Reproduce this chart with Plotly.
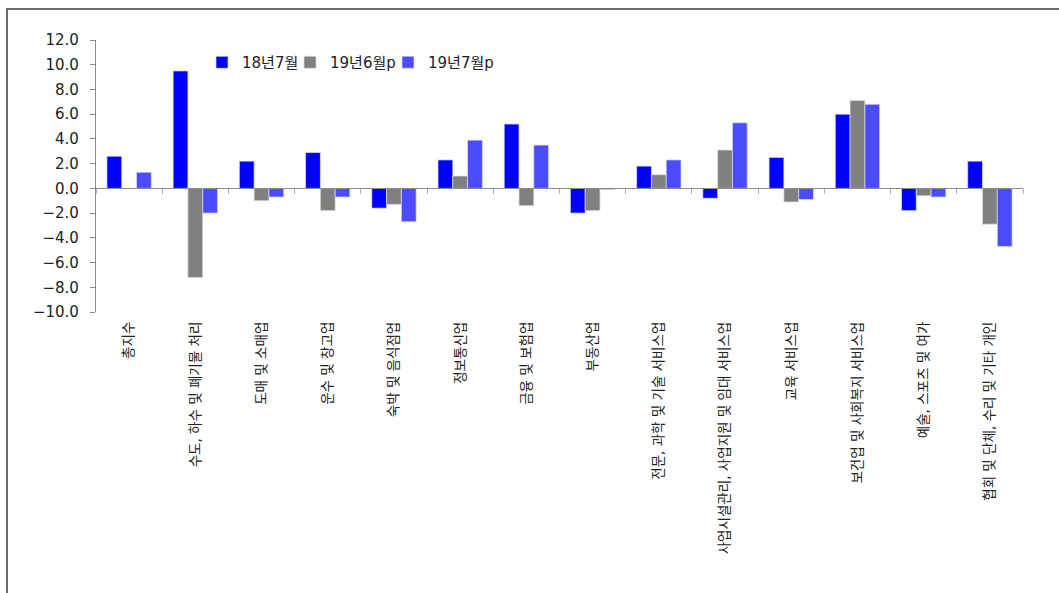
import plotly.graph_objects as go

categories = [
    "총지수",
    "수도, 하수 및 폐기물 처리",
    "도매 및 소매업",
    "운수 및 창고업",
    "숙박 및 음식점업",
    "정보통신업",
    "금융 및 보험업",
    "부동산업",
    "전문, 과학 및 기술 서비스업",
    "사업시설관리, 사업지원 및 임대 서비스업",
    "교육 서비스업",
    "보건업 및 사회복지 서비스업",
    "예술, 스포츠 및 여가",
    "협회 및 단체, 수리 및 기타 개인",
]
series_names = ["18년7월", "19년6월p", "19년7월p"]
v_1807 = [2.6, 9.5, 2.2, 2.9, -1.6, 2.3, 5.2, -2.0, 1.8, -0.8, 2.5, 6.0, -1.8, 2.2]
v_1906 = [0.0, -7.2, -1.0, -1.8, -1.3, 1.0, -1.4, -1.8, 1.1, 3.1, -1.1, 7.1, -0.6, -2.9]
v_1907 = [1.3, -2.0, -0.7, -0.7, -2.7, 3.9, 3.5, -0.1, 2.3, 5.3, -0.9, 6.8, -0.7, -4.7]
colors = ["#0000FF", "#808080", "#4B4BFF"]
y_range = [-10, 12]

FONT = "DejaVu Sans, Noto Sans CJK KR, sans-serif"

W, H = 1059, 593
L, R, T, B = 96, 36, 40, 281
pw, ph = W - L - R, H - T - B

legend_ids = ["legend", "legend2", "legend3"]
legend_px = [202, 290, 388]  # left edge of each legend entry, in pixels

fig = go.Figure()
for name, vals, col, lid in zip(series_names, [v_1807, v_1906, v_1907], colors, legend_ids):
    fig.add_trace(go.Bar(
        x=categories, y=vals, name=name, legend=lid,
        marker=dict(color=col, line=dict(color="rgba(220,220,230,0.9)", width=0.8)),
    ))

# helper trace for the axis drawn at y = 0
fig.add_trace(go.Scatter(
    x=categories, y=[None] * len(categories), xaxis="x2", yaxis="y",
    showlegend=False, hoverinfo="skip", mode="lines",
))

zero_pos = (0 - y_range[0]) / (y_range[1] - y_range[0])

legends = {}
for lid, px in zip(legend_ids, legend_px):
    legends[lid] = dict(
        orientation="h", x=(px - L) / pw, y=1 - (46 - T) / ph,
        xanchor="left", yanchor="top",
        font=dict(size=15, family=FONT, color="#222"),
        itemwidth=30, bgcolor="rgba(0,0,0,0)",
    )

fig.update_layout(
    width=W, height=H,
    margin=dict(l=L, r=R, t=T, b=B, pad=0),
    paper_bgcolor="white", plot_bgcolor="white",
    font=dict(family=FONT, color="#222222"),
    barmode="group", bargap=0.33, bargroupgap=0.0,
    xaxis=dict(
        type="category", categoryorder="array", categoryarray=categories,
        range=[-0.5, len(categories) - 0.5],
        showline=False, showgrid=False, zeroline=False, ticks="",
        tickangle=-90, tickfont=dict(size=13.5, family=FONT, color="#222"),
        ticklabelstandoff=6,
    ),
    xaxis2=dict(
        type="category", categoryorder="array", categoryarray=categories,
        range=[-0.5, len(categories) - 0.5],
        overlaying="x", anchor="free", position=zero_pos,
        showline=True, linecolor="#8c8c8c", linewidth=1.2,
        ticks="outside", tickson="boundaries", ticklen=5, tickcolor="#b0b0b0",
        showticklabels=False, showgrid=False, zeroline=False,
    ),
    yaxis=dict(
        range=y_range, dtick=2, tickformat=".1f",
        showline=True, linecolor="#8c8c8c", linewidth=1.2,
        ticks="outside", ticklen=5, tickcolor="#8c8c8c",
        showgrid=False, zeroline=False,
        tickfont=dict(size=15, family=FONT, color="#222"),
        ticklabelstandoff=8,
    ),
    shapes=[dict(
        type="rect", xref="paper", yref="paper",
        x0=(7 - L) / pw, x1=(W + 20 - L) / pw,
        y0=-2, y1=1 + (T - 9) / ph,
        line=dict(color="#6a6a6a", width=2), fillcolor="rgba(0,0,0,0)",
        layer="below",
    )],
    **legends,
)

fig.write_html("out.html")
